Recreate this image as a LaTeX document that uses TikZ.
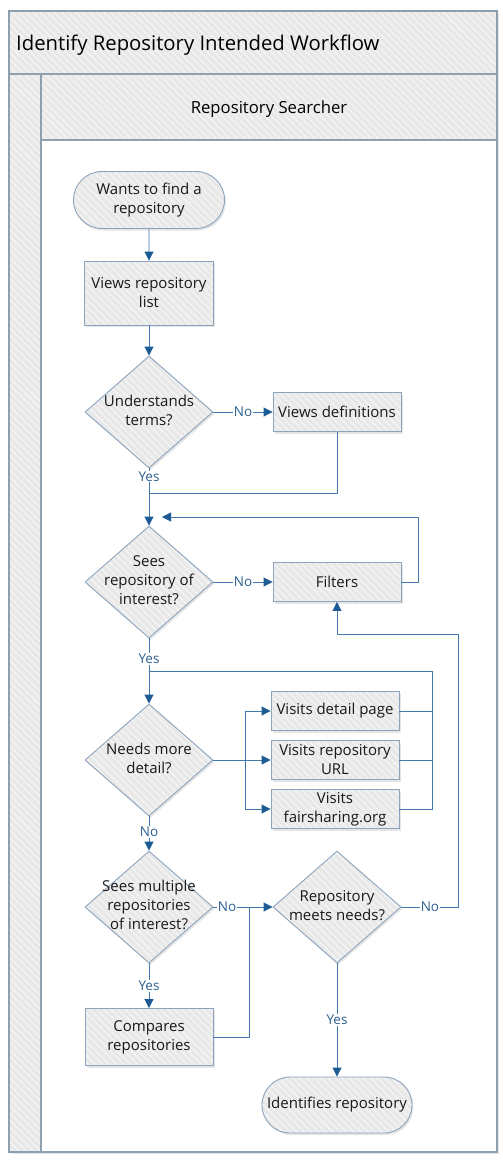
\documentclass[tikz,border=0pt]{standalone}
\usepackage{fontspec}
\setmainfont{Open Sans}
\usetikzlibrary{arrows.meta,shapes.geometric,shapes.misc,shadows,patterns.meta}

\definecolor{boxgray}{HTML}{E8E8E8}
\definecolor{stripe}{HTML}{F3F3F3}
\definecolor{edgeblue}{HTML}{8CA5BD}
\definecolor{poolline}{HTML}{8E9FAF}
\definecolor{flowblue}{HTML}{4279AC}
\definecolor{tipblue}{HTML}{1D5B95}
\definecolor{lblblue}{HTML}{2C5F90}

% text of a decision, kept out of the diamond size
\newcommand{\dectext}[1]{\smash{\raisebox{-0.25em}{\makebox[0pt]{\begin{tabular}{@{}c@{}}#1\end{tabular}}}}}

\begin{document}
\begin{tikzpicture}[x=1pt, y=-1pt,
  hatch/.style={preaction={fill=boxgray}, pattern={Lines[angle=-45, distance=5pt, line width=1.6pt]},
                pattern color=stripe},
  shadowed/.style={drop shadow={shadow xshift=1.5pt, shadow yshift=-2pt, opacity=0.2}},
  frame/.style={draw=poolline, line width=1.2pt},
  box/.style={rectangle, draw=edgeblue, line width=0.9pt, shadowed, hatch, minimum width=128pt,
              minimum height=39pt, inner sep=1pt, align=center, text=black!90,
              font=\fontsize{15}{19}\selectfont},
  term/.style={box, rounded rectangle, minimum width=153pt, minimum height=57pt},
  decision/.style={diamond, draw=edgeblue, line width=0.9pt, shadowed, hatch, minimum width=128pt,
                   minimum height=112pt, inner sep=0pt, text=black!90, font=\fontsize{15}{19}\selectfont},
  flow/.style={draw=flowblue, line width=0.9pt},
  arrow/.style={flow, -{Triangle[length=9pt, width=9pt, color=tipblue]}},
  lbl/.style={fill=white, inner sep=1pt, text=lblblue, font=\fontsize{13.5}{15}\selectfont}
]
  \useasboundingbox (0,0) rectangle (503,1160);

  % Pool and lane
  \draw[frame, fill=white, shadowed] (9,11) rectangle (497,1152);
  \draw[frame, hatch] (9,11) rectangle (497,74);
  \draw[frame, hatch] (9,74) rectangle (41,1152);
  \draw[frame, hatch] (41,74) rectangle (497,140);
  \node[anchor=base west, inner sep=0pt, font=\fontsize{20.3}{23}\selectfont] (pool) at (16,50)
    {Identify Repository Intended Workflow};
  \node[anchor=base, inner sep=0pt, font=\fontsize{16.7}{19}\selectfont] (lane) at (269,113)
    {Repository Searcher};

  % Steps
  \node[term] (start) at (149,200) {Wants to find a\\repository};
  \node[box, minimum width=129pt, minimum height=64pt] (list) at (149,293) {Views repository\\list};
  \node[decision] (terms) at (149,412) {\dectext{Understands\\terms?}};
  \node[box] (defs) at (337,412) {Views definitions};
  \node[decision] (sees) at (149,582) {\dectext{Sees\\repository of\\interest?}};
  \node[box] (filters) at (337,582) {Filters};
  \node[decision] (needs) at (149,760) {\dectext{Needs more\\detail?}};
  \node[box] (vdp) at (335,711) {Visits detail page};
  \node[box] (vru) at (335,760) {Visits repository\\URL};
  \node[box] (vfs) at (335,809) {Visits\\fairsharing.org};
  \node[decision] (multi) at (149,907) {\dectext{Sees multiple\\repositories\\of interest?}};
  \node[decision] (meets) at (337,907) {\dectext{Repository\\meets needs?}};
  \node[box, minimum height=57pt] (cmp) at (149,1037) {Compares\\repositories};
  \node[term, minimum width=152pt, minimum height=56pt] (ident) at (337,1105) {Identifies repository};

  % Bends
  \coordinate (j1) at (149,493);
  \coordinate (f1) at (162,517);
  \coordinate (t1) at (432,671);
  \coordinate (t2) at (149,671);
  \coordinate (b1) at (245,760);
  \coordinate (j3) at (249,907);
  \coordinate (r1) at (337,634);

  % Connectors
  \draw[arrow] (start) -- (list);
  \draw[arrow] (list) -- (terms);
  \draw[arrow] (terms) -- node[lbl]{No} (defs);
  \draw[arrow] (terms) -- node[lbl, pos=0.14]{Yes} (sees);
  \draw[flow] (defs) |- (j1);
  \draw[arrow] (sees) -- node[lbl]{No} (filters);
  \draw[arrow] (filters.east) -- ++(17,0) |- (f1);
  \draw[arrow] (sees) -- node[lbl, pos=0.31]{Yes} (needs);
  \draw[arrow] (needs.east) -- (vru.west);
  \draw[arrow] (b1) |- (vdp.west);
  \draw[arrow] (b1) |- (vfs.west);
  \draw[flow] (vdp.east) -| (t1) -- (t2);
  \draw[flow] (vru.east) -- (vru.east -| t1);
  \draw[flow] (vfs.east) -| (t1);
  \draw[arrow] (needs) -- node[lbl, pos=0.45]{No} (multi);
  \draw[arrow] (multi) -- node[lbl, pos=0.23]{No} (meets);
  \draw[arrow] (multi) -- node[lbl]{Yes} (cmp);
  \draw[flow] (cmp.east) -| (j3);
  \draw[arrow] (meets) -- node[lbl]{Yes} (ident);
  \draw[arrow] (meets.east) -- node[lbl]{No} ++(57,0) |- (r1) -- (filters.south);
\end{tikzpicture}
\end{document}
